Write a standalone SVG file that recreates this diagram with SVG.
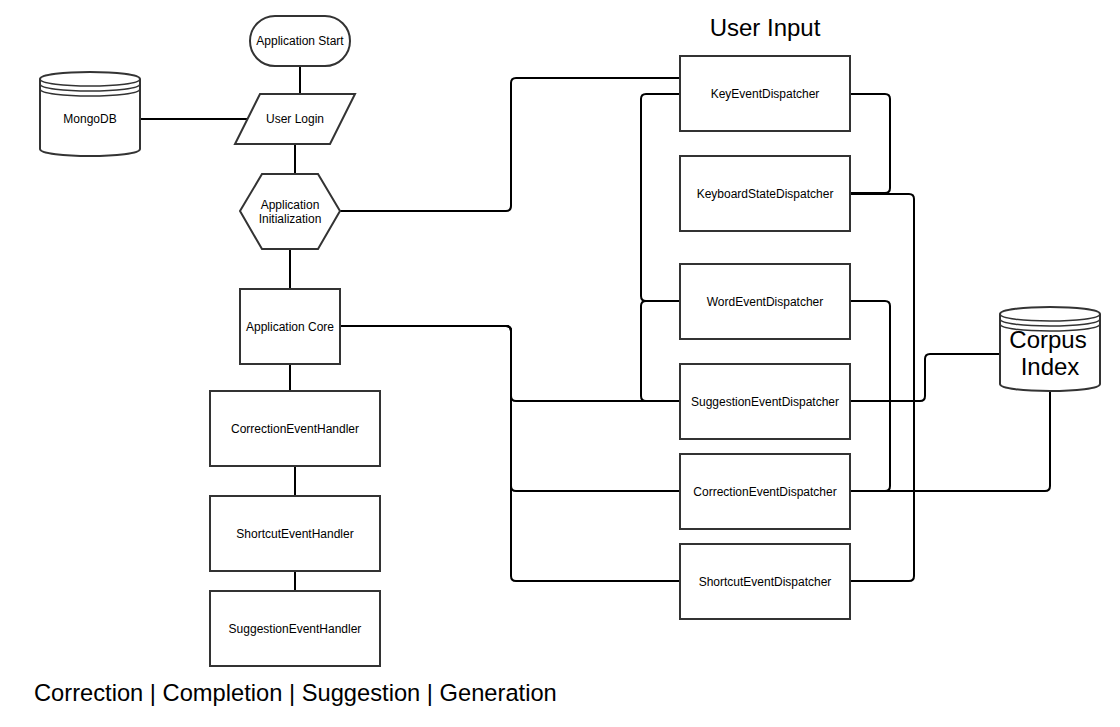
<svg xmlns="http://www.w3.org/2000/svg" width="1120" height="727" viewBox="0 0 1120 727">
<style>
.n{fill:#fff;stroke:#333;stroke-width:2}
.l{fill:none;stroke:#333;stroke-width:1.5}
.t{font-family:"Liberation Sans",Arial,sans-serif;font-size:12px;fill:#000;text-anchor:middle}
.big{font-family:"Liberation Sans",Arial,sans-serif;font-size:24px;fill:#000}
#connectors path{fill:none;stroke:#000;stroke-width:2}
</style>
<rect width="1120" height="727" fill="#fff"/>
<g id="connectors">
<path d="M300,66 V94"/>
<path d="M140,119 H248"/>
<path d="M295,144 V174"/>
<path d="M290,249 V289"/>
<path d="M290,364 V391"/>
<path d="M295,466 V496"/>
<path d="M295,571 V591"/>
<path d="M340,211 H506 Q511,211 511,206 V83 Q511,78 516,78 H680"/>
<path d="M340,326 H506 Q511,326 511,331 V396 Q511,401 516,401 H680"/>
<path d="M340,326 H506 Q511,326 511,331 V486 Q511,491 516,491 H680"/>
<path d="M340,326 H506 Q511,326 511,331 V576 Q511,581 516,581 H680"/>
<path d="M680,94 H646 Q641,94 641,99 V296 Q641,301 646,301 H680"/>
<path d="M680,301 H646 Q641,301 641,306 V396 Q641,401 646,401 H680"/>
<path d="M850,94 H885 Q890,94 890,99 V188 Q890,193 885,193 H850"/>
<path d="M850,194 H909 Q914,194 914,199 V576 Q914,581 909,581 H850"/>
<path d="M850,301 H885 Q890,301 890,306 V486 Q890,491 885,491 H850"/>
<path d="M850,401 H920 Q925,401 925,396 V359 Q925,354 930,354 H1000"/>
<path d="M850,491 H1045 Q1050,491 1050,486 V391"/>
</g>
<g id="app-start">
<rect class="n" x="250" y="16" width="100" height="50" rx="25"/>
<text class="t" x="300" y="45">Application Start</text>
</g>
<g id="mongodb">
<path class="n" d="M40,79 C40,69.67 140,69.67 140,79 L140,149 C140,158.33 40,158.33 40,149 Z"/>
<path class="l" d="M40,79 C40,88.33 140,88.33 140,79 M40,84 C40,93.33 140,93.33 140,84 M40,89 C40,98.33 140,98.33 140,89"/>
<text class="t" x="90" y="123">MongoDB</text>
</g>
<g id="user-login">
<polygon class="n" points="260,94 355,94 330,144 235,144"/>
<text class="t" x="295" y="123">User Login</text>
</g>
<g id="app-init">
<polygon class="n" points="240,211 262,174 318,174 340,211 318,249 262,249"/>
<text class="t" x="290" y="209">Application</text>
<text class="t" x="290" y="223">Initialization</text>
</g>
<g id="app-core">
<rect class="n" x="240" y="289" width="100" height="75"/>
<text class="t" x="290" y="331">Application Core</text>
</g>
<g id="correction-handler">
<rect class="n" x="210" y="391" width="170" height="75"/>
<text class="t" x="295" y="433">CorrectionEventHandler</text>
</g>
<g id="shortcut-handler">
<rect class="n" x="210" y="496" width="170" height="75"/>
<text class="t" x="295" y="538">ShortcutEventHandler</text>
</g>
<g id="suggestion-handler">
<rect class="n" x="210" y="591" width="170" height="75"/>
<text class="t" x="295" y="633">SuggestionEventHandler</text>
</g>
<g id="key-dispatcher">
<rect class="n" x="680" y="56" width="170" height="75"/>
<text class="t" x="765" y="98">KeyEventDispatcher</text>
</g>
<g id="keyboard-state-dispatcher">
<rect class="n" x="680" y="156" width="170" height="75"/>
<text class="t" x="765" y="198">KeyboardStateDispatcher</text>
</g>
<g id="word-dispatcher">
<rect class="n" x="680" y="264" width="170" height="75"/>
<text class="t" x="765" y="306">WordEventDispatcher</text>
</g>
<g id="suggestion-dispatcher">
<rect class="n" x="680" y="364" width="170" height="75"/>
<text class="t" x="765" y="406">SuggestionEventDispatcher</text>
</g>
<g id="correction-dispatcher">
<rect class="n" x="680" y="454" width="170" height="75"/>
<text class="t" x="765" y="496">CorrectionEventDispatcher</text>
</g>
<g id="shortcut-dispatcher">
<rect class="n" x="680" y="544" width="170" height="75"/>
<text class="t" x="765" y="586">ShortcutEventDispatcher</text>
</g>
<g id="corpus-index">
<path class="n" d="M1000,314 C1000,304.67 1100,304.67 1100,314 L1100,384 C1100,393.33 1000,393.33 1000,384 Z"/>
<path class="l" d="M1000,314 C1000,323.33 1100,323.33 1100,314 M1000,319 C1000,328.33 1100,328.33 1100,319 M1000,324 C1000,333.33 1100,333.33 1100,324"/>
<text class="big" x="1048" y="348" text-anchor="middle">Corpus</text>
<text class="big" x="1050" y="375" text-anchor="middle">Index</text>
</g>
<g id="labels">
<text class="big" x="765" y="36" text-anchor="middle">User Input</text>
<text class="big" x="34" y="701" style="font-size:23.7px">Correction | Completion | Suggestion | Generation</text>
</g>
</svg>
